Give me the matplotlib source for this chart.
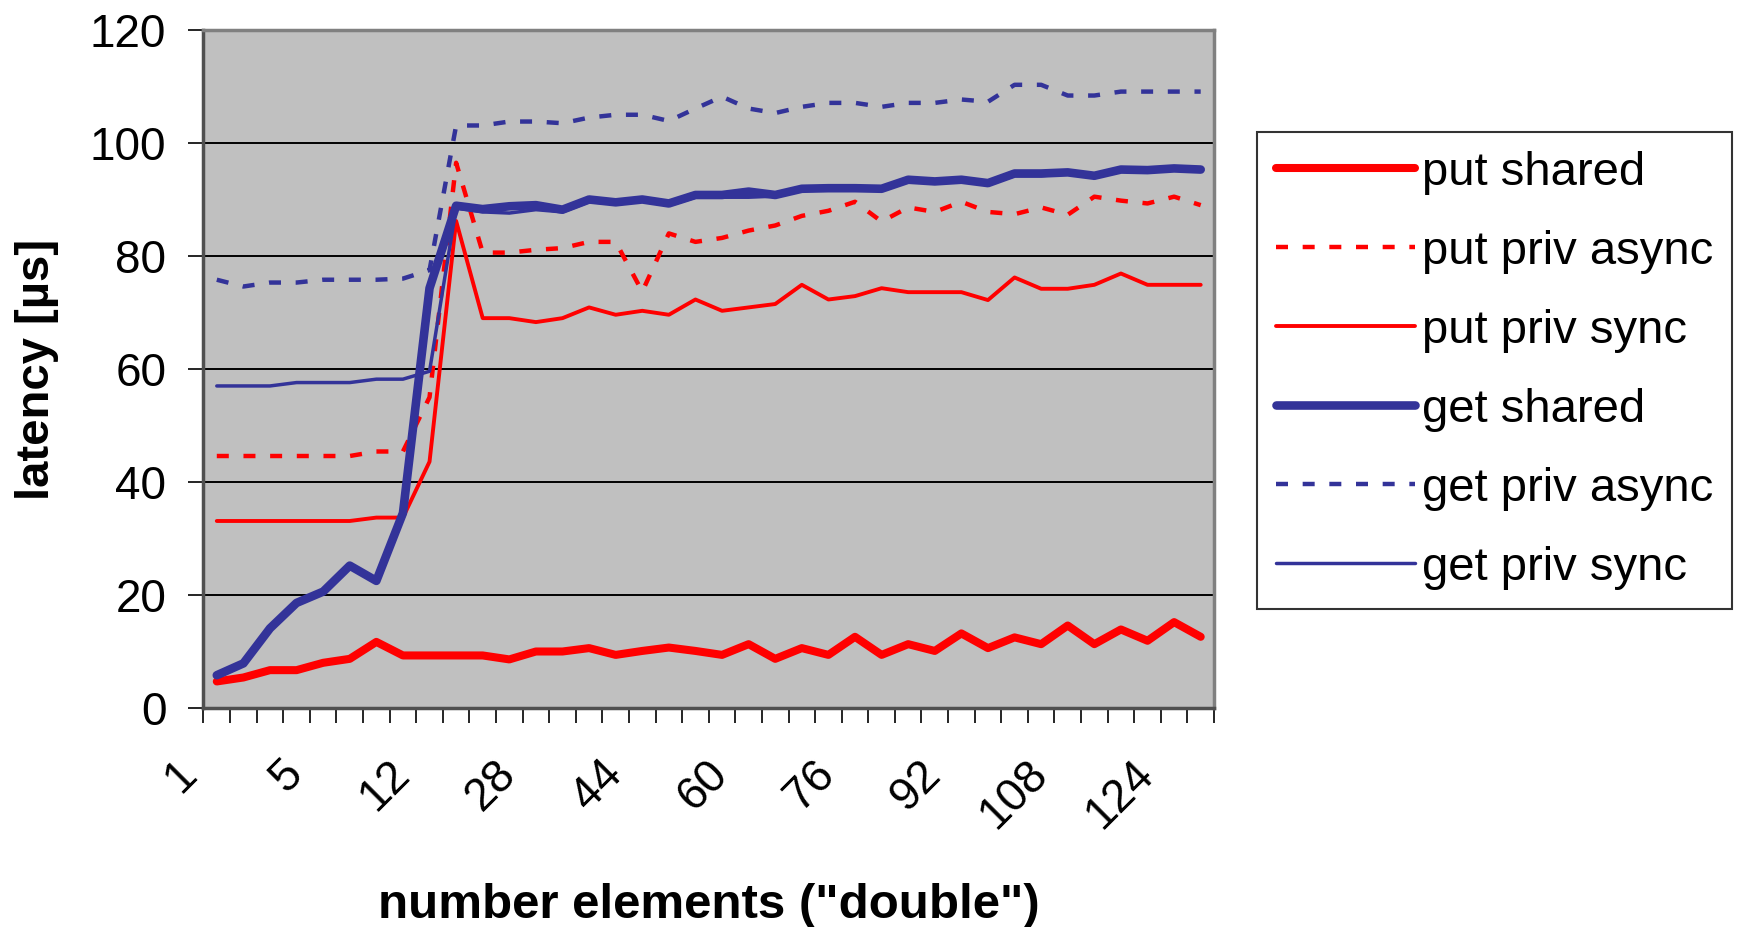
import numpy as np
import matplotlib
matplotlib.use("Agg")
import matplotlib.pyplot as plt
from matplotlib.transforms import ScaledTranslation
from matplotlib.lines import Line2D

plt.rcParams['font.family'] = ['Liberation Sans', 'DejaVu Sans']

# number of "double" elements transferred (categorical axis)
elements = [1, 2, 3, 4, 5, 6, 8, 10, 12, 16, 20, 24, 28, 32, 36, 40, 44, 48, 52,
            56, 60, 64, 68, 72, 76, 80, 84, 88, 92, 96, 100, 104, 108, 112, 116,
            120, 124, 128]
label_every = 4

# latency in microseconds
put_shared = [4.7, 5.4, 6.7, 6.7, 8.0, 8.7, 11.7, 9.3, 9.3, 9.3, 9.3, 8.6, 10.0,
              10.0, 10.6, 9.4, 10.1, 10.7, 10.1, 9.4, 11.3, 8.7, 10.6, 9.4, 12.6,
              9.4, 11.3, 10.1, 13.2, 10.6, 12.5, 11.3, 14.6, 11.3, 13.9, 11.9,
              15.2, 12.6]
put_priv_async = [44.6, 44.6, 44.6, 44.6, 44.6, 44.6, 45.4, 45.4, 55.0, 96.5,
                  80.6, 80.6, 81.1, 81.4, 82.5, 82.5, 73.7, 84.0, 82.5, 83.2,
                  84.5, 85.4, 87.1, 88.0, 89.6, 86.1, 88.6, 87.8, 89.6, 87.8,
                  87.4, 88.6, 87.3, 90.5, 89.8, 89.3, 90.5, 89.0]
put_priv_sync = [33.1, 33.1, 33.1, 33.1, 33.1, 33.1, 33.7, 33.7, 43.6, 86.2,
                 69.0, 69.0, 68.3, 69.0, 70.9, 69.6, 70.3, 69.6, 72.3, 70.3,
                 70.9, 71.5, 74.9, 72.3, 72.9, 74.3, 73.6, 73.6, 73.6, 72.2,
                 76.2, 74.2, 74.2, 74.9, 76.9, 74.9, 74.9, 74.9]
get_shared = [5.8, 7.9, 14.1, 18.6, 20.6, 25.2, 22.5, 34.5, 74.3, 88.9, 88.3,
              88.8, 89.0, 88.2, 90.0, 89.5, 90.0, 89.3, 90.8, 90.8, 91.4, 90.8,
              91.9, 92.0, 92.0, 91.9, 93.5, 93.2, 93.5, 92.9, 94.6, 94.6, 94.8,
              94.2, 95.3, 95.2, 95.5, 95.3]
get_priv_async = [75.8, 74.6, 75.3, 75.3, 75.8, 75.8, 75.8, 76.0, 77.5, 103.1,
                  103.1, 103.8, 103.8, 103.5, 104.5, 105.0, 105.0, 103.9, 106.1,
                  108.2, 106.1, 105.3, 106.4, 107.1, 107.1, 106.4, 107.1, 107.1,
                  107.7, 107.3, 110.3, 110.3, 108.4, 108.4, 109.1, 109.1, 109.1,
                  109.1]
get_priv_sync = [57.0, 57.0, 57.0, 57.6, 57.6, 57.6, 58.2, 58.2, 59.6, 88.5,
                 87.8, 87.6, 88.2, 87.8, 89.6, 89.3, 89.8, 89.0, 90.4, 90.4,
                 90.4, 90.6, 91.8, 91.8, 91.8, 91.8, 93.2, 93.0, 93.2, 92.8,
                 94.2, 94.2, 94.6, 94.0, 95.0, 95.0, 95.3, 95.0]

series_names = ["put shared", "put priv async", "put priv sync",
                "get shared", "get priv async", "get priv sync"]

RED = "#FF0000"
BLUE = "#333399"
DASH = (2.7, 3.3)

W, H, DPI = 1740, 927, 100
fig = plt.figure(figsize=(W / DPI, H / DPI), dpi=DPI, facecolor="white")

left, right, top, bottom = 203.5, 1214, 30, 708
ax = fig.add_axes([left / W, 1 - bottom / H, (right - left) / W, (bottom - top) / H])
ax.set_facecolor("#C0C0C0")

x = np.arange(len(elements))

styles = [
    dict(color=RED, lw=5.8),
    dict(color=RED, lw=3.2, dashes=DASH),
    dict(color=RED, lw=2.8),
    dict(color=BLUE, lw=6.2),
    dict(color=BLUE, lw=3.2, dashes=DASH),
    dict(color=BLUE, lw=2.5),
]
data = [put_shared, put_priv_async, put_priv_sync,
        get_shared, get_priv_async, get_priv_sync]

handles = []
for name, vals, st in zip(series_names, data, styles):
    kw = dict(st)
    dashes = kw.pop("dashes", None)
    line, = ax.plot(x, vals, label=name, solid_joinstyle="round",
                    solid_capstyle="round", dash_capstyle="butt", zorder=3, **kw)
    if dashes is not None:
        line.set_dashes(dashes)
    h = Line2D([], [], solid_capstyle="round", dash_capstyle="butt", **kw)
    if dashes is not None:
        h.set_dashes(dashes)
    handles.append(h)

# axes ranges and grid
ax.set_xlim(-0.5, len(elements) - 0.5)
ax.set_ylim(0, 120)
ax.set_yticks(np.arange(0, 121, 20))
ax.yaxis.grid(True, color="black", lw=1.4, zorder=1)
ax.set_axisbelow(True)

# category boundaries carry the tick marks, every 4th category a label
ax.set_xticks(np.arange(-0.5, len(elements), 1.0))
ax.set_xticklabels([])
lab_pos = x[::label_every]
ax.set_xticks(lab_pos, minor=True)
ax.set_xticklabels([str(elements[i]) for i in lab_pos], minor=True)

ax.tick_params(axis="x", which="major", length=10.8, width=1.2, color="black",
               direction="out")
ax.tick_params(axis="x", which="minor", length=0, pad=43, labelsize=33)
ax.tick_params(axis="y", length=10.8, width=1.2, color="black", pad=16,
               labelsize=33)

shift = ScaledTranslation(-0.27, 0, fig.dpi_scale_trans)
for lab in ax.get_xticklabels(minor=True):
    lab.set_rotation(45)
    lab.set_rotation_mode("anchor")
    lab.set_ha("right")
    lab.set_va("center")
    lab.set_transform(lab.get_transform() + shift)

for side in ("top", "right"):
    ax.spines[side].set_color("#808080")
    ax.spines[side].set_linewidth(2.5)
for side in ("left", "bottom"):
    ax.spines[side].set_color("#505050")
    ax.spines[side].set_linewidth(2.5)

ax.set_xlabel('number elements ("double")', fontsize=35.5, fontweight="bold",
              va="center")
ax.xaxis.set_label_coords(0.5, (bottom - 905) / (bottom - top))
ax.set_ylabel("latency [µs]", fontsize=34, fontweight="bold", va="center")
ax.yaxis.set_label_coords((37 - left) / (right - left), 0.5)

leg = fig.legend(handles, series_names, loc="upper left",
                 bbox_to_anchor=(1257 / W, 1 - 132 / H), fontsize=34,
                 frameon=True, fancybox=False, edgecolor="black",
                 borderpad=0.4, handlelength=2.95, handletextpad=0.15,
                 labelspacing=0.74, borderaxespad=0)
leg.get_frame().set_linewidth(1.5)

fig.savefig("out.png", dpi=DPI, facecolor="white")
